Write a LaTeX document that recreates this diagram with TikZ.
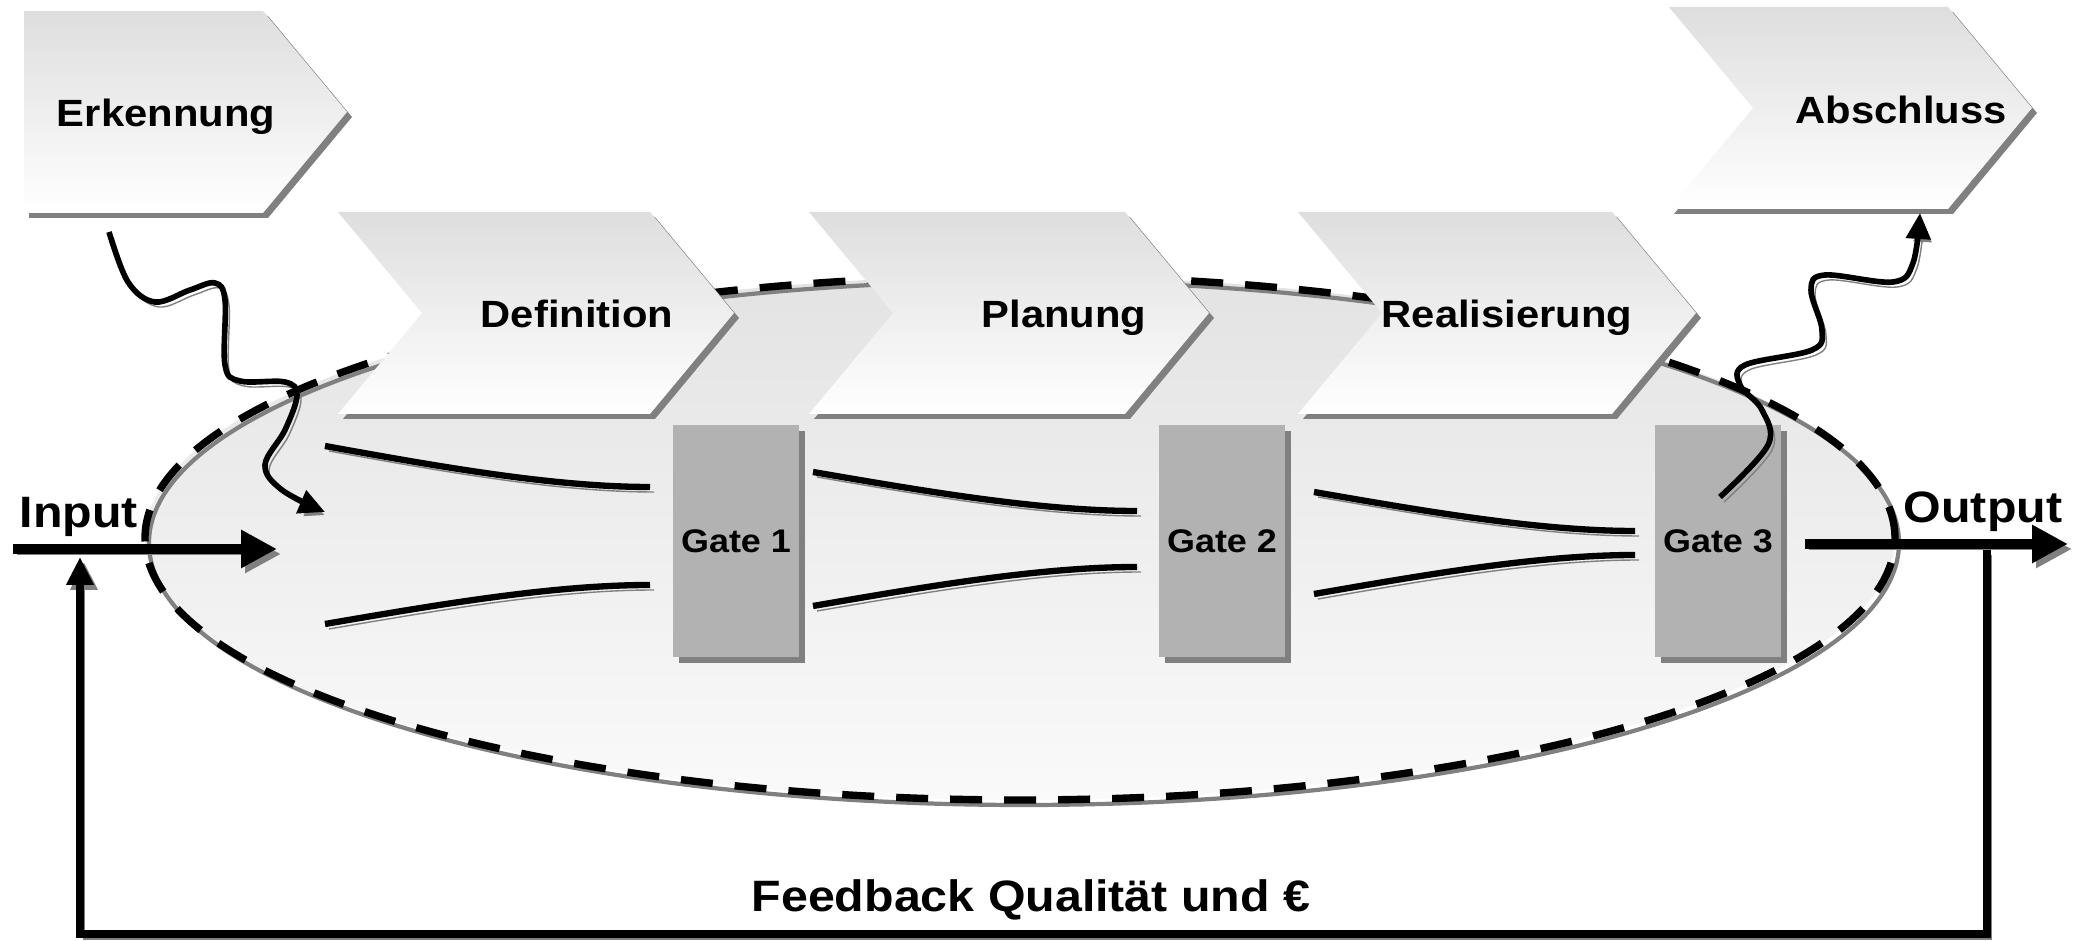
\documentclass[tikz,border=0pt]{standalone}
\usepackage{fontspec}
\setmainfont{Liberation Sans}[FakeStretch=1.1]
\usetikzlibrary{arrows.meta,shapes.geometric,shadows}
\definecolor{shadowgrey}{HTML}{808080}
\definecolor{gatefill}{HTML}{B2B2B2}
\tikzset{%
  phase/.style     = {font=\fontsize{10.8}{13}\selectfont\bfseries,%
                      anchor=base, inner sep=0pt},%
  chevbody/.style  = {top color=black!13, bottom color=white},%
  chevshade/.style = {fill=shadowgrey},%
  gate/.style      = {rectangle, fill=gatefill, inner sep=0pt,%
                      minimum width=12.6mm, minimum height=23.2mm,%
                      font=\fontsize{9.3}{11}\selectfont\bfseries,%
                      drop shadow={shadow xshift=0.6mm, shadow yshift=-0.6mm,%
                                   fill=shadowgrey, opacity=1}},%
  shadowed/.style  = {preaction={draw=shadowgrey,%
                      transform canvas={shift={(0.4mm,-0.5mm)}}}},%
  funnel/.style    = {line width=1.8pt, shadowed},%
  wave/.style      = {line width=1.6pt, shadowed,%
                      -{Triangle[length=2.6mm,width=2.4mm]}},%
  flow/.style      = {line width=3pt, shadowed,%
                      -{Triangle[length=3.6mm,width=3.6mm]}},%
  feedback/.style  = {line width=2.4pt, shadowed,%
                      -{Triangle[length=2.8mm,width=2.6mm]}},%
  iolabel/.style   = {font=\fontsize{12.5}{14}\selectfont\bfseries,%
                      anchor=base, inner sep=0pt},%
  process/.style   = {ellipse, inner sep=0pt, minimum width=175mm,%
                      minimum height=52.4mm, top color=black!11, bottom color=black!2}%
}
% chevron: left x, top y, body width, notch depth
\newcommand{\chevron}[4]{%
  \fill[chevshade] ({#1+5},{#2+5}) -- ++(#3,0) -- ++(84,101) -- ++(-84,101)
    -- ++(-#3,0) -- ++(#4,-101) -- cycle;
  \shade[chevbody] (#1,#2) -- ++(#3,0) -- ++(84,101) -- ++(-84,101)
    -- ++(-#3,0) -- ++(#4,-101) -- cycle;}

\begin{document}
\begin{tikzpicture}[x=0.1mm, y=-0.1mm]
	\useasboundingbox (0,0) rectangle (2081,941);
	% the process
	\node[process] (proc) at (1020,538) {};
	\draw[shadowgrey, line width=1.2pt] ([shift={(0.4mm,-0.5mm)}]proc.center)
		ellipse [x radius=87.5mm, y radius=26.2mm];
	\draw[line width=2.1pt, dash pattern=on 3.2mm off 2.2mm] (proc.center)
		ellipse [x radius=87.5mm, y radius=26.2mm];
	% phases
	\chevron{24}{11}{239}{0}
	\chevron{338}{212}{312}{84}
	\chevron{809}{212}{316}{84}
	\chevron{1298}{212}{314}{84}
	\chevron{1669}{7}{279}{84}
	\node[phase] (erk)   at (166,127)  {Erkennung};
	\node[phase] (def)   at (577,328)  {Definition};
	\node[phase] (plan)  at (1064,328) {Planung};
	\node[phase] (real)  at (1507,328) {Realisierung};
	\node[phase] (absch) at (1901,124) {Abschluss};
	% gates
	\node[gate] (g1) at (736,541)  {Gate 1};
	\node[gate] (g2) at (1222,541) {Gate 2};
	\node[gate] (g3) at (1718,541) {Gate 3};
	\foreach \xa/\xb/\ya/\yb/\yc/\yd in {325/650/446/487/624/585,
		813/1137/472/511/606/567, 1314/1635/492/531/594/555}{
		\draw[funnel] (\xa,\ya) .. controls ({\xa+0.35*(\xb-\xa)},{\ya+0.5*(\yb-\ya)})
			and ({\xb-0.3*(\xb-\xa)},\yb) .. (\xb,\yb);
		\draw[funnel] (\xa,\yc) .. controls ({\xa+0.35*(\xb-\xa)},{\yc+0.5*(\yd-\yc)})
			and ({\xb-0.3*(\xb-\xa)},\yd) .. (\xb,\yd);
	}
	% input, output, feedback
	\coordinate (inL) at (13,549);
	\coordinate (inR) at (277,549);
	\coordinate (outL) at (1805,544);
	\coordinate (outR) at (2068,544);
	\draw[flow] (inL) -- (inR);
	\draw[flow] (outL) -- (outR);
	\node[iolabel] (input)  at (79,528)   {Input};
	\node[iolabel] (output) at (1983,523) {Output};
	\coordinate (fbR) at (1987,550);
	\coordinate (fbB) at (1000,934);
	\coordinate (fbL) at (80,557);
	\draw[feedback] (fbR) |- (fbB) -| (fbL);
	\node[iolabel] (fbtext) at (1031,912) {Feedback Qualität und €};
	% wavy arrows
	\coordinate (erkwave) at (109,232);
	\coordinate (erkend)  at (325,512);
	\draw[wave] plot[smooth, tension=0.6] coordinates {(erkwave) (128,282) (155,302)
		(190,290) (215,283) (225,300) (225,365) (240,381) (285,382) (297,395)
		(285,430) (265,465) (282,490) (erkend)};
	\coordinate (g3wave)  at (1720,497);
	\coordinate (abschin) at (1920,213);
	\draw[wave] plot[smooth, tension=0.6] coordinates {(g3wave) (1768,445) (1762,410)
		(1740,385) (1745,365) (1812,350) (1822,330) (1811,290) (1825,275)
		(1893,282) (1913,263) (abschin)};
\end{tikzpicture}
\end{document}
